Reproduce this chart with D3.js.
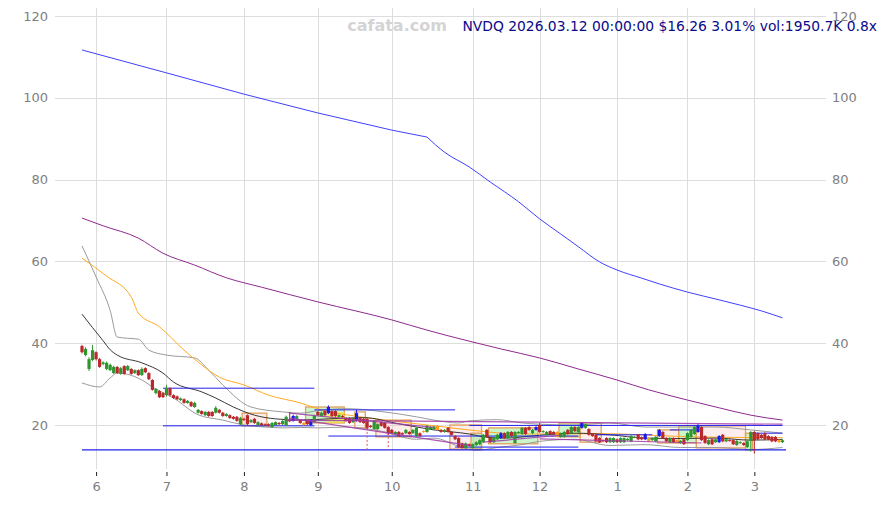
<!DOCTYPE html>
<html><head><meta charset="utf-8">
<script src="https://cdn.jsdelivr.net/npm/d3@7"></script>
<style>body{margin:0;background:#fff;} svg{display:block}</style>
</head><body>
<svg id="c" width="886" height="505"></svg>
<script>
// ---------------- DATA ----------------
const ticker = "NVDQ";
const titleText = "NVDQ 2026.03.12 00:00:00 $16.26 3.01% vol:1950.7K 0.8x";
const watermark = "cafata.com";
const startDate = "2025-05-27";
const endDate = "2026-03-12";
const holidays = ["2025-06-19","2025-07-04","2025-09-01","2025-11-27","2025-12-25","2026-01-01","2026-01-19","2026-02-16"];

const open = [39.3,37.1,33.7,35.9,37.8,36.1,34.9,33.7,33.4,32.7,34.2,32.5,34.4,33.4,33.7,32.7,33.4,32.2,33.9,32.7,
31.0,27.8,28.3,27.8,27.3,29.0,27.3,27.0,26.1,26.3,25.4,25.6,24.4,23.0,23.4,22.4,23.2,23.2,23.0,23.7,
23.0,22.2,22.4,22.0,22.0,20.2,21.5,22.4,20.7,21.5,20.0,20.4,20.2,20.2,19.5,20.0,20.5,20.2,20.0,21.2,
21.0,21.5,21.2,20.5,21.0,21.2,20.7,23.2,22.2,23.4,22.9,23.4,23.4,22.0,22.2,21.7,21.7,20.7,21.0,21.7,
21.5,21.5,19.8,19.0,19.0,20.7,20.5,19.5,18.8,17.8,18.3,18.0,18.0,18.3,18.0,17.3,18.0,18.5,18.3,19.0,
19.0,19.8,18.8,18.3,19.3,18.3,17.3,16.8,15.5,14.4,15.3,14.4,15.1,15.3,15.8,18.8,16.8,15.8,16.5,16.8,
18.0,16.8,18.3,15.6,18.0,17.8,19.3,19.5,18.0,18.8,20.0,18.3,17.6,18.5,18.3,18.3,17.1,17.1,18.8,18.0,
19.5,18.3,19.3,19.3,19.0,17.8,17.6,16.8,16.3,16.8,15.8,15.8,16.5,15.8,15.8,16.3,16.0,17.0,17.6,17.0,
16.5,16.8,16.3,16.0,17.3,18.3,16.8,15.8,16.8,16.3,15.6,16.5,16.3,17.1,17.8,18.3,19.5,17.3,15.3,16.5,
15.8,15.8,17.6,16.0,16.3,16.3,15.1,15.6,15.6,14.6,16.1,18.3,18.0,17.6,18.0,17.3,17.1,17.1,16.3,15.8];
const close = [37.8,38.6,36.1,38.3,36.1,34.2,35.3,35.2,34.7,34.2,32.7,33.9,32.5,34.4,32.5,33.4,32.2,33.7,32.9,31.2,
28.6,28.8,26.8,26.8,29.0,27.3,26.6,26.3,26.5,25.4,25.9,24.6,25.4,23.7,22.7,23.2,22.2,22.2,24.2,23.0,
22.2,22.7,21.7,21.5,21.0,21.7,21.2,20.2,21.2,20.5,20.7,20.0,20.0,19.8,20.5,20.7,20.2,21.0,22.0,20.9,
22.2,22.2,20.5,20.0,20.2,20.0,22.2,22.4,23.0,22.4,24.4,22.2,22.2,22.4,22.0,21.0,20.5,21.7,22.9,20.7,
20.5,19.3,19.5,21.0,20.2,19.8,19.3,18.0,18.0,18.3,17.3,17.7,18.8,17.8,18.8,19.3,17.3,18.3,19.8,19.5,
19.6,18.8,18.3,18.8,18.3,17.6,16.5,14.6,14.4,15.5,14.9,15.3,15.8,16.3,17.6,17.1,15.8,16.8,17.6,18.0,
16.8,18.3,17.3,18.3,18.3,19.3,17.8,18.8,18.8,19.5,18.3,18.5,18.3,17.8,17.8,17.1,18.0,18.3,17.8,19.5,
18.5,19.5,20.5,20.2,17.6,17.3,16.0,15.8,16.0,15.8,16.8,16.8,15.8,16.8,16.8,16.6,17.3,17.1,16.5,16.5,
17.8,16.0,16.8,17.1,18.8,16.8,16.0,16.8,15.8,15.8,16.1,15.3,18.0,18.8,19.5,19.8,16.3,15.6,16.3,15.3,
16.5,17.3,16.0,16.5,16.2,15.3,16.1,15.8,15.1,16.0,18.3,16.3,16.5,16.8,16.5,16.5,16.0,16.0,15.8,16.26];
const high = [39.6,39.0,36.6,39.6,38.0,36.4,35.6,35.5,35.0,34.5,34.4,34.2,34.6,34.7,33.9,33.6,33.6,34.1,34.1,32.9,
31.2,29.0,28.5,28.0,29.8,29.2,27.5,27.2,26.7,26.5,26.1,25.8,25.7,23.9,23.6,23.4,23.4,23.4,24.6,23.9,
23.2,22.9,22.6,22.2,22.2,22.0,21.8,22.6,21.4,21.7,20.9,20.6,20.4,20.4,20.7,20.9,20.7,21.2,22.3,23.2,
22.5,22.4,21.4,20.7,21.2,21.4,22.5,23.4,23.3,23.6,24.8,23.6,23.6,22.6,22.4,21.9,21.9,21.9,23.7,21.9,
21.7,21.7,20.0,21.2,20.4,20.9,20.7,19.7,19.0,18.5,18.5,18.2,19.0,18.5,19.0,19.5,18.2,18.7,20.0,19.7,
19.8,20.0,19.0,19.0,19.5,18.5,17.5,17.0,15.7,15.7,15.5,15.5,16.0,16.5,17.8,19.0,17.0,17.0,17.8,18.3,
18.2,18.5,18.5,18.5,18.5,19.5,19.5,19.7,19.0,19.7,20.5,18.7,18.5,18.7,18.5,18.5,18.2,18.5,19.0,19.7,
19.7,19.7,20.7,20.4,19.2,18.0,17.8,17.0,16.5,17.0,17.0,17.0,16.7,17.0,17.0,16.8,17.5,17.3,17.8,17.2,
18.0,17.0,17.0,17.3,19.0,18.5,17.0,17.0,17.0,16.5,16.3,16.7,18.2,19.0,19.7,20.2,19.7,17.5,16.5,16.7,
16.7,17.5,17.8,16.7,16.5,16.5,16.3,16.0,15.8,16.2,18.5,18.5,18.2,17.8,18.2,17.5,17.3,17.3,16.5,16.5];
const low = [37.5,36.8,33.2,35.6,35.8,34.0,34.6,33.4,33.2,32.5,32.5,32.3,32.3,33.2,32.3,32.5,32.0,32.0,32.7,31.0,
28.4,27.5,26.6,26.6,27.0,27.0,26.4,26.1,25.9,25.2,25.2,24.4,24.2,22.8,22.5,22.2,22.0,22.0,22.8,22.8,
22.0,22.0,21.5,21.3,20.8,20.0,21.0,20.0,20.5,20.3,19.8,19.8,19.8,19.6,19.3,19.8,20.0,20.0,19.8,20.7,
20.8,21.3,20.3,19.8,20.0,19.7,20.5,22.2,22.0,22.2,22.7,22.0,22.0,21.8,21.8,20.8,20.3,20.5,20.8,20.5,
20.3,19.0,19.3,18.8,18.8,19.6,19.1,17.6,17.8,17.6,17.1,17.5,17.8,17.6,17.8,17.1,17.1,18.1,18.1,18.8,
18.8,18.6,18.1,18.1,18.1,17.4,16.3,14.4,14.2,14.2,14.7,14.2,14.9,15.1,15.6,16.9,15.6,15.6,16.3,16.6,
16.6,16.6,17.1,15.4,17.8,17.6,17.6,18.6,17.8,18.6,18.1,18.1,17.4,17.6,17.6,16.9,16.9,16.9,17.6,17.8,
18.3,18.1,19.1,19.1,17.4,17.1,15.8,15.6,15.8,15.6,15.6,15.6,15.6,15.6,15.6,16.1,15.8,16.8,16.3,16.3,
16.3,15.8,16.1,15.8,17.1,16.6,15.8,15.6,15.6,15.6,15.4,15.1,16.1,16.9,17.6,18.1,16.1,15.4,15.1,15.1,
15.6,15.6,15.8,15.8,16.0,15.1,14.9,15.4,14.9,14.4,13.5,13.0,16.3,16.6,16.3,16.3,15.8,15.8,15.6,15.6];
const blueCandles = [60,65,70,78,119,129,142,160,164,175,181];
const orangeCandles = [63,97,101,135,161,169,198];

// moving averages / bands, sampled (day index, value)
const maLongIdx = [0,24,46,67,88,98,103,110,116,124,130,136,141,147,152,159,164,172,181,187,193,199];
const maLongVal = [111.7,106.1,100.9,96.3,92.1,90.4,86.7,83.1,79.4,74.6,70.4,66.7,63.6,59.9,57.9,55.9,54.5,52.5,50.6,49.3,47.9,46.2];
const maLongBreak = 98;
const maMidIdx = [0,6,16,23,32,41,51,67,88,98,110,119,130,141,152,161,172,181,190,199];
const maMidVal = [70.6,68.7,65.7,62.0,59.1,56.0,53.7,50.1,45.7,43.2,40.5,38.6,36.4,33.7,31.0,28.6,26.1,24.2,22.4,21.2];
const ma60Idx = [0,7,14,16,22,29,34,39,46,53,62,68,79,90,102,113,124,136,147,159,170,181,199];
const ma60Val = [60.8,56.4,51.3,47.4,44.0,38.3,34.7,31.7,29.8,27.3,25.4,23.7,22.0,20.8,19.6,18.5,17.8,17.8,17.9,17.6,17.2,17.0,16.9];
const ma20Idx = [0,3,6,8,10,17,23,26,34,38,43,49,55,62,70,80,90,100,110,115,120,130,140,150,160,170,180,190,199];
const ma20Val = [47.1,43.8,40.6,38.4,37.1,35.2,32.7,30.5,28.1,26.6,24.4,22.4,21.5,21.2,21.5,21.8,20.3,18.8,17.8,17.0,16.8,17.5,18.0,17.6,16.8,16.7,16.8,16.3,16.5];
const bbUpIdx = [0,4,8,10,13,16,19,24,32,36,40,48,57,62,67,75,85,95,100,107,110,118,125,130,140,150,160,170,180,190,199];
const bbUpVal = [63.8,56.2,48.0,41.5,41.2,41.0,38.3,37.1,36.4,33.4,29.8,24.4,23.2,22.9,23.5,24.0,23.3,22.0,21.2,20.5,21.0,21.3,20.5,20.2,20.0,20.5,19.5,19.5,19.5,18.8,18.0];
const bbLowIdx = [0,5,8,10,18,20,26,33,40,46,52,57,62,67,75,85,95,100,107,112,118,125,130,140,150,160,170,180,190,199];
const bbLowVal = [30.3,29.3,31.5,32.7,30.5,29.3,26.6,22.5,21.2,20.0,19.5,19.3,19.4,19.3,19.5,18.5,16.5,16.8,14.8,13.8,14.5,15.2,16.0,16.5,15.0,15.2,14.5,14.5,14.0,14.5];

// zones (day index range, price range)
const boxFrom =   [46,64,70,78,84,105,111,116,136,142,164,170,175,189];
const boxTo =     [52,74,74,80,93,113,113,129,141,147,169,174,188,190];
const boxTop =    [22.9,24.4,23.2,23.2,21.2,20.0,18.0,19.3,20.5,20.5,18.8,19.8,19.8,18.0];
const boxBottom = [19.8,20.5,20.5,19.3,17.1,14.1,14.1,15.4,17.1,15.8,15.6,15.6,14.4,13.9];
const boxKind =   ["pink","green","yellow","plain","pink","pink","green","green","green","pink","pink","green","pink","green"];

// support / resistance levels
const levelFrom = [0,23,23,66,70,106,110,146,167,190];
const levelTo =   [200,66,66,106,141,141,199,162,174,199];
const levelVal =  [13.9,29.0,19.8,23.7,17.3,14.6,19.9,17.6,18.8,18.0];

// trend lines
const trendFrom = [58,59,59,114,130];
const trendFromVal = [21.2,22.9,21.7,15.8,16.6];
const trendTo = [199,100,110,136,176];
const trendToVal = [20.2,19.4,15.0,17.5,15.6];

// signal markers (dotted verticals)
const signalIdx = [81,87];
const signalTop = [19.3,18.0];
const signalBottom = [13.9,13.9];

const yTicks = [20,40,60,80,100,120];

// ---------------- CHART ----------------
const parse = d3.timeParse("%Y-%m-%d");
const fmt = d3.timeFormat("%Y-%m-%d");
const hol = new Set(holidays);
const dates = [];
for (let d = parse(startDate); d <= parse(endDate); d = d3.timeDay.offset(d, 1)) {
  const wd = d.getDay();
  if (wd === 0 || wd === 6 || hol.has(fmt(d))) continue;
  dates.push(new Date(d));
}
const n = close.length;

const svg = d3.select("#c");
const plot = {left: 55, right: 826, top: 8, bottom: 465};

const x = d3.scaleLinear().domain([-7.67, 211.36]).range([plot.left, plot.right]);
const y = d3.scaleLinear().domain([10.22, 121.96]).range([plot.bottom, plot.top]);

const gridColor = "#dddddd";
const axisTextColor = "#808080";

// month starts
const monthStarts = [];
for (let i = 1; i < dates.length; i++) if (dates[i].getMonth() !== dates[i-1].getMonth()) monthStarts.push(i);

// grid
svg.append("g").selectAll("line").data(yTicks).join("line")
  .attr("x1", plot.left).attr("x2", plot.right)
  .attr("y1", d => Math.round(y(d)) + 0.5).attr("y2", d => Math.round(y(d)) + 0.5)
  .attr("stroke", gridColor).attr("stroke-width", 1);
svg.append("g").selectAll("line").data(monthStarts).join("line")
  .attr("x1", d => Math.round(x(d)) + 0.5).attr("x2", d => Math.round(x(d)) + 0.5)
  .attr("y1", plot.top).attr("y2", 469)
  .attr("stroke", gridColor).attr("stroke-width", 1);

// axes labels
const leftAxis = d3.axisLeft(y).tickValues(yTicks).tickSize(0).tickPadding(0);
const gl = svg.append("g").attr("transform", "translate(48,0)").call(leftAxis);
const rightAxis = d3.axisRight(y).tickValues(yTicks).tickSize(0).tickPadding(0);
const gr = svg.append("g").attr("transform", "translate(832,0)").call(rightAxis);
const bottomAxis = d3.axisBottom(x).tickValues(monthStarts)
  .tickFormat(i => String(dates[i].getMonth() + 1)).tickSize(4).tickPadding(6);
const gb = svg.append("g").attr("transform", "translate(0,472)").call(bottomAxis);
[gl, gr, gb].forEach(g => {
  g.select(".domain").remove();
  g.selectAll("text").attr("fill", axisTextColor).style("font-family", "DejaVu Sans").style("font-size", "13px");
});
gb.selectAll(".tick line").attr("stroke", "#222").attr("stroke-width", 1);

// zones
const fills = {pink: "rgba(250,190,190,0.28)", green: "rgba(130,230,130,0.42)", yellow: "rgba(255,240,40,0.55)", plain: "rgba(255,235,225,0.25)"};
const half = (x(1) - x(0)) / 2;
svg.append("g").selectAll("rect").data(boxFrom.map((f, k) => k)).join("rect")
  .attr("x", k => x(boxFrom[k]) - half)
  .attr("width", k => x(boxTo[k]) - x(boxFrom[k]) + 2 * half)
  .attr("y", k => y(boxTop[k]))
  .attr("height", k => y(boxBottom[k]) - y(boxTop[k]))
  .attr("fill", k => fills[boxKind[k]])
  .attr("stroke", k => boxKind[k] === "yellow" ? "none" : "#e2a05a")
  .attr("stroke-width", 1.3);

// moving averages
function drawLine(idx, val, color, width, curve) {
  const line = d3.line().x(d => x(d[0])).y(d => y(d[1])).curve(curve || d3.curveMonotoneX);
  svg.append("path").datum(idx.map((d, k) => [d, val[k]]))
    .attr("d", line).attr("fill", "none").attr("stroke", color).attr("stroke-width", width);
}
const lb = maLongIdx.indexOf(maLongBreak);
drawLine(maLongIdx.slice(0, lb + 1), maLongVal.slice(0, lb + 1), "#2a2aff", 0.9, d3.curveLinear);
drawLine(maLongIdx.slice(lb), maLongVal.slice(lb), "#2a2aff", 0.9, d3.curveMonotoneX);
drawLine(maMidIdx, maMidVal, "#8e2a8e", 1.0);
drawLine(bbUpIdx, bbUpVal, "#9a9a9a", 1.0);
drawLine(bbLowIdx, bbLowVal, "#9a9a9a", 1.0);
drawLine(ma60Idx, ma60Val, "#ffaa22", 1.0);
drawLine(ma20Idx, ma20Val, "#222222", 0.9);

// levels
svg.append("g").selectAll("line").data(levelVal.map((v, k) => k)).join("line")
  .attr("x1", k => x(levelFrom[k])).attr("x2", k => x(levelTo[k]))
  .attr("y1", k => y(levelVal[k])).attr("y2", k => y(levelVal[k]))
  .attr("stroke", "#2020ee").attr("stroke-width", k => k === 0 ? 1.3 : 1);

// signals
svg.append("g").selectAll("line").data(signalIdx.map((v, k) => k)).join("line")
  .attr("x1", k => x(signalIdx[k])).attr("x2", k => x(signalIdx[k]))
  .attr("y1", k => y(signalTop[k])).attr("y2", k => y(signalBottom[k]))
  .attr("stroke", "#e05555").attr("stroke-width", 1).attr("stroke-dasharray", "2,2");

// candles
const candleColor = i => blueCandles.includes(i) ? "#1a1aee" : orangeCandles.includes(i) ? "#ff9a1a" : (close[i] >= open[i] ? "#2e962e" : "#b9282c");
const cg = svg.append("g");
const idxs = d3.range(n);
cg.selectAll("line").data(idxs).join("line")
  .attr("x1", i => x(i)).attr("x2", i => x(i))
  .attr("y1", i => y(high[i])).attr("y2", i => y(low[i]))
  .attr("stroke", candleColor).attr("stroke-width", 1);
cg.selectAll("rect").data(idxs).join("rect")
  .attr("x", i => x(i) - 1.6).attr("width", 3.2)
  .attr("y", i => y(Math.max(open[i], close[i])))
  .attr("height", i => Math.max(1, Math.abs(y(open[i]) - y(close[i]))))
  .attr("fill", candleColor);

// trend lines
svg.append("g").selectAll("line").data(trendFrom.map((v, k) => k)).join("line")
  .attr("x1", k => x(trendFrom[k])).attr("x2", k => x(trendTo[k]))
  .attr("y1", k => y(trendFromVal[k])).attr("y2", k => y(trendToVal[k]))
  .attr("stroke", "#a03aa8").attr("stroke-width", 1.2).attr("opacity", 0.85);

// texts
svg.append("text").attr("x", 397).attr("y", 31).attr("text-anchor", "middle")
  .style("font-family", "DejaVu Sans").style("font-weight", "bold").style("font-size", "16px")
  .attr("fill", "#d4d4d4").text(watermark);
svg.append("text").attr("x", 877).attr("y", 31).attr("text-anchor", "end")
  .style("font-family", "DejaVu Sans").style("font-size", "13.85px")
  .attr("fill", "#0a0a8a").text(titleText);
</script>
</body></html>
